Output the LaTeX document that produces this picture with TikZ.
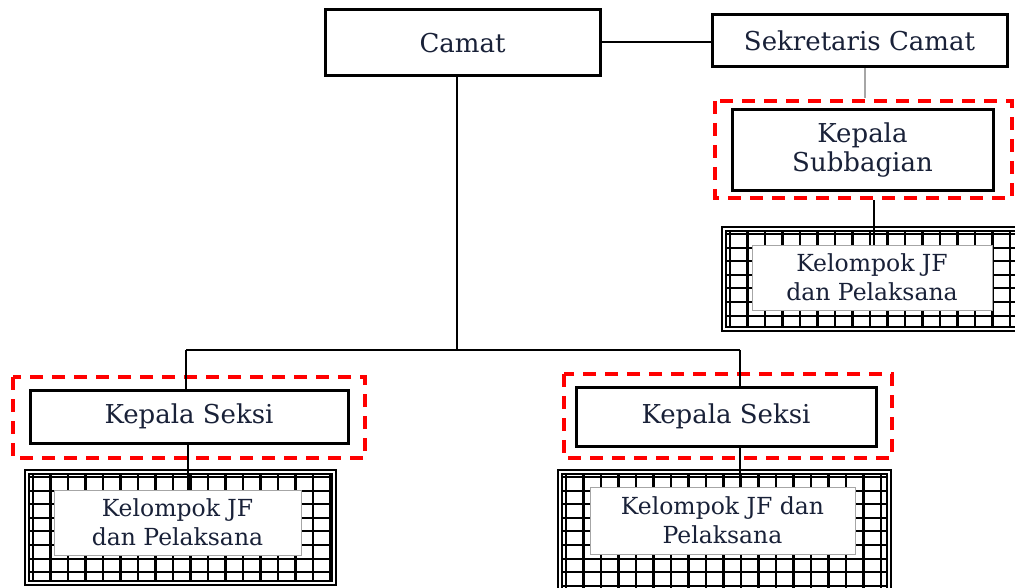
\documentclass[tikz,border=0pt]{standalone}
\usepackage{fontspec}
\setmainfont{DejaVu Serif}
\definecolor{txt}{rgb}{0.10,0.13,0.22}
\definecolor{dred}{rgb}{1,0,0}
\begin{document}
\begin{tikzpicture}[x=1pt,y=-1pt,
  box/.style={draw=black,line width=3pt,fill=white,text=txt,font=\fontsize{26}{29}\selectfont,align=center,inner sep=0pt},
  redbox/.style={draw=dred,line width=3.8pt,dash pattern=on 13pt off 9pt},
  gridbox/.style={draw=black,double=white,double distance=1.8pt,line width=2pt,
     path picture={
       \foreach \i in {0,...,20}{
         \draw[line width=2.1pt] ([xshift=\i*17.5pt+6pt]path picture bounding box.north west) -- ([xshift=\i*17.5pt+6pt]path picture bounding box.south west);}
       \foreach \j in {0,...,9}{
         \draw[line width=2.1pt] ([yshift=-\j*13.6pt-5pt]path picture bounding box.north west) -- ([yshift=-\j*13.6pt-5pt]path picture bounding box.north east);}
     }},
  inner/.style={draw=gray!70,line width=0.8pt,fill=white,text=txt,font=\fontsize{23.5}{29}\selectfont,align=center,inner sep=0pt},
  conn/.style={draw=black,line width=1.1pt}]
\useasboundingbox (0,0) rectangle (1015,588);
% boxes
\node[box,minimum width=275,minimum height=66] (camat) at (462.5,43) {Camat};
\node[box,minimum width=295,minimum height=52] (sek) at (859.5,41) {Sekretaris Camat};
\draw[redbox] (715,101) rectangle (1012,198);
\node[box,minimum width=261,minimum height=81] (ksub) at (862.5,150.5) {Kepala\\Subbagian};
\draw[redbox] (13,377) rectangle (365,458);
\node[box,minimum width=318,minimum height=53] (ks1) at (189,416.5) {Kepala Seksi};
\draw[redbox] (564,374) rectangle (892,458);
\node[box,minimum width=300,minimum height=59] (ks2) at (726,416.5) {Kepala Seksi};
% grid boxes
\node[gridbox,minimum width=295,minimum height=100,inner sep=0pt] (g0) at (871.5,279) {};
\node[inner,minimum width=240,minimum height=65] (jf0) at (872,277.5) {Kelompok JF\\dan Pelaksana};
\node[gridbox,minimum width=307,minimum height=111,inner sep=0pt] (g1) at (180.5,527.5) {};
\node[inner,minimum width=247,minimum height=65] (jf1) at (177.5,522.5) {Kelompok JF\\dan Pelaksana};
\node[gridbox,minimum width=329,minimum height=120,inner sep=0pt] (g2) at (724.5,532) {};
\node[inner,minimum width=265,minimum height=67] (jf2) at (722.5,520.5) {Kelompok JF dan\\Pelaksana};
% connectors
\coordinate (jn) at (457,350);
\draw[conn] (camat.east |- 0,42) -- (sek.west |- 0,42);
\draw[conn,draw=gray!70,line width=1.6pt] (sek.south -| 865,0) -- (865,98);
\draw[conn] (camat.south -| jn) -- (jn);
\draw[conn] (186,350) -- (740,350);
\draw[conn] (186,350) -- (ks1.north -| 186,0);
\draw[conn] (740,350) -- (ks2.north -| 740,0);
\draw[conn] (ksub.south -| 874,0) ++(0,8) -- (jf0.north -| 874,0);
\draw[conn] (ks1.south -| 188,0) -- (jf1.north -| 188,0);
\draw[conn] (ks2.south -| 740,0) -- (jf2.north -| 740,0);
\end{tikzpicture}
\end{document}
